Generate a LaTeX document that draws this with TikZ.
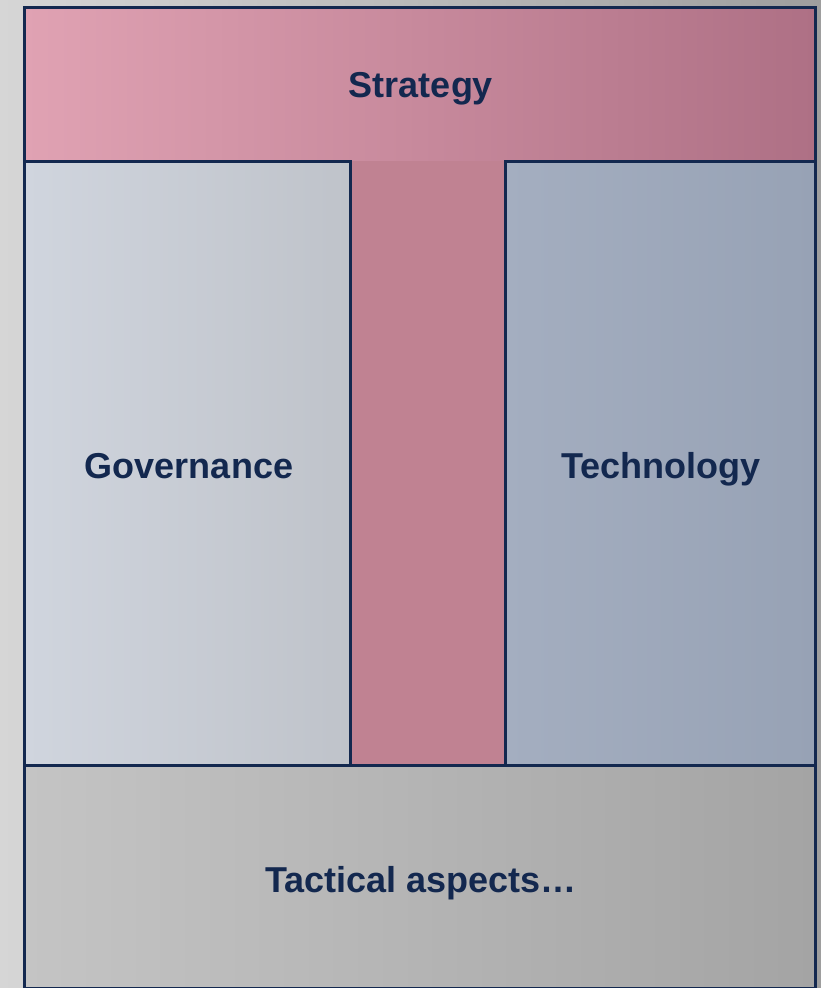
\documentclass[tikz,border=0pt]{standalone}
\usepackage{fontspec}
\setmainfont{Liberation Sans}
\definecolor{navy}{HTML}{13284F}
\definecolor{bgL}{HTML}{D6D6D6}
\definecolor{bgR}{HTML}{9E9E9E}
\definecolor{stL}{HTML}{E0A2B3}
\definecolor{stR}{HTML}{AE7085}
\definecolor{stemC}{HTML}{C08292}
\definecolor{gvL}{HTML}{D0D5DE}
\definecolor{gvR}{HTML}{BFC3CA}
\definecolor{tcL}{HTML}{A4AEC0}
\definecolor{tcR}{HTML}{97A2B5}
\definecolor{taL}{HTML}{C4C4C4}
\definecolor{taR}{HTML}{A4A4A4}
\tikzset{
  panel/.style={draw=navy, line width=3pt},
  lbl/.style={text=navy, font=\bfseries\fontsize{36}{40}\selectfont, inner sep=0pt, anchor=base}
}
\begin{document}
\begin{tikzpicture}[x=1pt,y=-1pt]
\useasboundingbox (0,0) rectangle (821,988);
\shade[left color=bgL, right color=bgR] (0,0) rectangle (821,988);
% regions
\shade[left color=stL, right color=stR] (24,7) rectangle (815,161);
\fill[stemC] (350,161) rectangle (505,765);
\shade[left color=gvL, right color=gvR] (24,161) rectangle (350,765);
\shade[left color=tcL, right color=tcR] (505,161) rectangle (815,765);
\shade[left color=taL, right color=taR] (24,765) rectangle (815,988);
% borders
\draw[panel] (24,7) rectangle (815,988);
\draw[panel] (24,161) -- (350,161) -- (350,765);
\draw[panel] (815,161) -- (505,161) -- (505,765);
\draw[panel] (24,765) -- (815,765);
% labels
\node[lbl] (strategy) at (421,97) {Strategy};
\node[lbl] (governance) at (189,478) {Governance};
\node[lbl] (technology) at (661,478) {Technology};
\node[lbl] (tactical) at (421,892) {Tactical aspects…};
\end{tikzpicture}
\end{document}
